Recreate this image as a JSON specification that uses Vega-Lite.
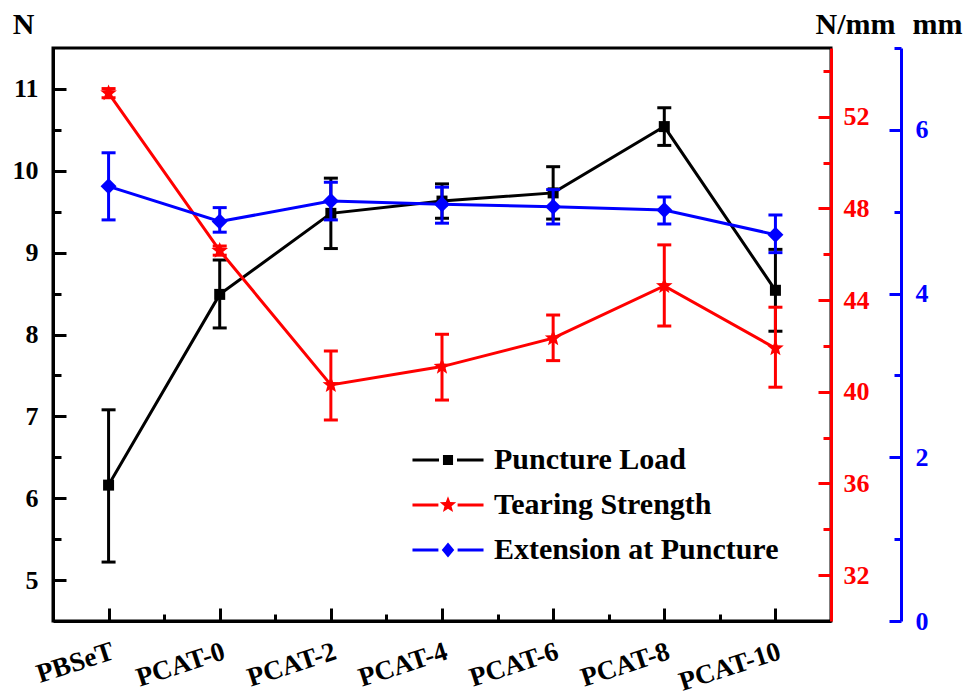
{
  "$schema": "https://vega.github.io/schema/vega-lite/v6.json",
  "width": 778,
  "height": 573,
  "autosize": {"type": "none"},
  "padding": {"left": 53, "top": 48, "right": 148, "bottom": 76},
  "background": "white",
  "config": {
    "view": {"stroke": "black", "strokeWidth": 3},
    "font": "Liberation Serif"
  },
  "data": {
    "values": [
      {"i": 0, "sample": "PBSeT", "series": "Puncture Load", "v": 6.16, "lo": 5.22, "hi": 7.08},
      {"i": 1, "sample": "PCAT-0", "series": "Puncture Load", "v": 8.49, "lo": 8.08, "hi": 8.91},
      {"i": 2, "sample": "PCAT-2", "series": "Puncture Load", "v": 9.48, "lo": 9.05, "hi": 9.91},
      {"i": 3, "sample": "PCAT-4", "series": "Puncture Load", "v": 9.63, "lo": 9.42, "hi": 9.84},
      {"i": 4, "sample": "PCAT-6", "series": "Puncture Load", "v": 9.73, "lo": 9.41, "hi": 10.05},
      {"i": 5, "sample": "PCAT-8", "series": "Puncture Load", "v": 10.54, "lo": 10.31, "hi": 10.77},
      {"i": 6, "sample": "PCAT-10", "series": "Puncture Load", "v": 8.54, "lo": 8.04, "hi": 9.04},
      {"i": 0, "sample": "PBSeT", "series": "Tearing Strength", "v": 53.03, "lo": 52.83, "hi": 53.23},
      {"i": 1, "sample": "PCAT-0", "series": "Tearing Strength", "v": 46.16, "lo": 45.96, "hi": 46.36},
      {"i": 2, "sample": "PCAT-2", "series": "Tearing Strength", "v": 40.3, "lo": 38.77, "hi": 41.78},
      {"i": 3, "sample": "PCAT-4", "series": "Tearing Strength", "v": 41.1, "lo": 39.64, "hi": 42.51},
      {"i": 4, "sample": "PCAT-6", "series": "Tearing Strength", "v": 42.34, "lo": 41.36, "hi": 43.35},
      {"i": 5, "sample": "PCAT-8", "series": "Tearing Strength", "v": 44.62, "lo": 42.87, "hi": 46.41},
      {"i": 6, "sample": "PCAT-10", "series": "Tearing Strength", "v": 41.9, "lo": 40.2, "hi": 43.69},
      {"i": 0, "sample": "PBSeT", "series": "Extension at Puncture", "v": 5.31, "lo": 4.9, "hi": 5.72},
      {"i": 1, "sample": "PCAT-0", "series": "Extension at Puncture", "v": 4.88, "lo": 4.75, "hi": 5.05},
      {"i": 2, "sample": "PCAT-2", "series": "Extension at Puncture", "v": 5.13, "lo": 4.9, "hi": 5.36},
      {"i": 3, "sample": "PCAT-4", "series": "Extension at Puncture", "v": 5.09, "lo": 4.86, "hi": 5.3},
      {"i": 4, "sample": "PCAT-6", "series": "Extension at Puncture", "v": 5.06, "lo": 4.85, "hi": 5.27},
      {"i": 5, "sample": "PCAT-8", "series": "Extension at Puncture", "v": 5.02, "lo": 4.85, "hi": 5.18},
      {"i": 6, "sample": "PCAT-10", "series": "Extension at Puncture", "v": 4.72, "lo": 4.5, "hi": 4.96}
    ]
  },
  "resolve": {"scale": {"y": "independent"}},
  "layer": [
    {
      "transform": [{"filter": "datum.series === 'Puncture Load'"}],
      "layer": [
        {
          "mark": {"type": "rule", "color": "black", "strokeWidth": 3, "opacity": 1},
          "encoding": {
            "x": {
              "field": "i", "type": "quantitative",
              "scale": {"domain": [-0.5, 6.5], "nice": false, "zero": false},
              "axis": {
                "orient": "top", "offset": -573,
                "values": [0.5, 1.5, 2.5, 3.5, 4.5, 5.5],
                "labels": false, "domain": false, "grid": false, "title": null,
                "ticks": true, "tickSize": 7, "tickWidth": 3, "tickColor": "black"
              }
            },
            "y": {
              "field": "lo", "type": "quantitative",
              "scale": {"domain": [4.5, 11.5], "nice": false, "zero": false},
              "axis": {
                "orient": "right", "offset": -778,
                "values": [5.5, 6.5, 7.5, 8.5, 9.5, 10.5],
                "labels": false, "domain": false, "grid": false, "title": null,
                "ticks": true, "tickSize": 8, "tickWidth": 3, "tickColor": "black"
              }
            },
            "y2": {"field": "hi"}
          }
        },
        {
          "mark": {"type": "tick", "orient": "horizontal", "color": "black", "size": 14, "thickness": 3, "opacity": 1},
          "encoding": {
            "x": {"field": "i", "type": "quantitative", "scale": {"domain": [-0.5, 6.5], "nice": false, "zero": false}, "axis": null},
            "y": {"field": "lo", "type": "quantitative", "scale": {"domain": [4.5, 11.5], "nice": false, "zero": false}, "axis": null}
          }
        },
        {
          "mark": {"type": "tick", "orient": "horizontal", "color": "black", "size": 14, "thickness": 3, "opacity": 1},
          "encoding": {
            "x": {"field": "i", "type": "quantitative", "scale": {"domain": [-0.5, 6.5], "nice": false, "zero": false}, "axis": null},
            "y": {"field": "hi", "type": "quantitative", "scale": {"domain": [4.5, 11.5], "nice": false, "zero": false}, "axis": null}
          }
        },
        {
          "mark": {"type": "line", "color": "black", "strokeWidth": 3},
          "encoding": {
            "x": {
              "field": "i", "type": "quantitative",
              "scale": {"domain": [-0.5, 6.5], "nice": false, "zero": false},
              "axis": {
                "orient": "bottom",
                "values": [0, 1, 2, 3, 4, 5, 6],
                "labelExpr": "['PBSeT','PCAT-0','PCAT-2','PCAT-4','PCAT-6','PCAT-8','PCAT-10'][datum.value]",
                "ticks": false,
                "domainColor": "black", "domainWidth": 3,
                "labelAngle": -18, "labelAlign": "right", "labelBaseline": "top",
                "labelFont": "Liberation Serif", "labelFontWeight": "bold", "labelFontSize": 27, "labelColor": "black",
                "labelPadding": 17, "labelFlush": false, "labelOverlap": false, "labelBound": false,
                "grid": false, "title": null
              }
            },
            "y": {
              "field": "v", "type": "quantitative",
              "scale": {"domain": [4.5, 11.5], "nice": false, "zero": false},
              "axis": {
                "orient": "left",
                "values": [5, 6, 7, 8, 9, 10, 11],
                "labelExpr": "'' + datum.value",
                "ticks": false,
                "domainColor": "black", "domainWidth": 3,
                "labelFont": "Liberation Serif", "labelFontWeight": "bold", "labelFontSize": 26, "labelColor": "black",
                "labelPadding": 15, "labelFlush": false, "labelOverlap": false,
                "grid": false,
                "title": "N", "titleAngle": 0, "titleAlign": "center", "titleBaseline": "alphabetic",
                "titleX": -30, "titleY": -15,
                "titleFont": "Liberation Serif", "titleFontWeight": "bold", "titleFontSize": 30, "titleColor": "black"
              }
            }
          }
        },
        {
          "mark": {"type": "point", "shape": "square", "filled": true, "size": 121, "opacity": 1, "strokeWidth": 0},
          "encoding": {
            "x": {
              "field": "i", "type": "quantitative",
              "scale": {"domain": [-0.5, 6.5], "nice": false, "zero": false},
              "axis": {
                "orient": "top", "offset": -573,
                "values": [0, 1, 2, 3, 4, 5, 6],
                "labels": false, "domain": false, "grid": false, "title": null,
                "ticks": true, "tickSize": 13, "tickWidth": 3, "tickColor": "black"
              }
            },
            "y": {
              "field": "v", "type": "quantitative",
              "scale": {"domain": [4.5, 11.5], "nice": false, "zero": false},
              "axis": {
                "orient": "right", "offset": -778,
                "values": [5, 6, 7, 8, 9, 10, 11],
                "labels": false, "domain": false, "grid": false, "title": null,
                "ticks": true, "tickSize": 13, "tickWidth": 3, "tickColor": "black"
              }
            },
            "color": {
              "field": "series", "type": "nominal",
              "scale": {"domain": ["Puncture Load", "Tearing Strength", "Extension at Puncture"], "range": ["black", "red", "blue"]},
              "legend": {
                "orient": "none", "legendX": 380, "legendY": 397,
                "title": null, "padding": 0,
                "labelFont": "Liberation Serif", "labelFontWeight": "bold", "labelFontSize": 30, "labelColor": "black",
                "labelOffset": 31, "labelLimit": 500, "rowPadding": 15,
                "symbolSize": 576, "symbolStrokeWidth": 0, "symbolOpacity": 1,
                "encode": {
                  "symbols": {
                    "update": {
                      "shape": {"signal": "datum.value === 'Puncture Load' ? 'M-2.96,-0.12H-0.75V0.12H-2.96Z M0.75,-0.12H2.96V0.12H0.75Z M-0.42,-0.42H0.42V0.42H-0.42Z' : datum.value === 'Tearing Strength' ? 'M-2.96,-0.12H-0.8V0.12H-2.96Z M0.8,-0.12H2.96V0.12H0.8Z M0,-0.72L0.181,-0.25L0.685,-0.222L0.293,0.095L0.423,0.582L0,0.309L-0.423,0.582L-0.293,0.095L-0.685,-0.222L-0.181,-0.25Z' : 'M-2.96,-0.12H-0.8V0.12H-2.96Z M0.8,-0.12H2.96V0.12H0.8Z M0,-0.62L0.52,0L0,0.62L-0.52,0Z'"},
                      "fill": {"signal": "datum.value === 'Puncture Load' ? 'black' : datum.value === 'Tearing Strength' ? 'red' : 'blue'"},
                      "strokeWidth": {"value": 0},
                      "opacity": {"value": 1}
                    }
                  }
                }
              }
            }
          }
        }
      ]
    },
    {
      "transform": [{"filter": "datum.series === 'Tearing Strength'"}],
      "layer": [
        {
          "mark": {"type": "rule", "color": "red", "strokeWidth": 3, "opacity": 1},
          "encoding": {
            "x": {"field": "i", "type": "quantitative", "scale": {"domain": [-0.5, 6.5], "nice": false, "zero": false}, "axis": null},
            "y": {
              "field": "lo", "type": "quantitative",
              "scale": {"domain": [30, 55], "nice": false, "zero": false},
              "axis": {
                "orient": "left", "offset": -778,
                "values": [34, 38, 42, 46, 50, 54],
                "labels": false, "domain": false, "grid": false, "title": null,
                "ticks": true, "tickSize": 8, "tickWidth": 3, "tickColor": "red"
              }
            },
            "y2": {"field": "hi"}
          }
        },
        {
          "mark": {"type": "tick", "orient": "horizontal", "color": "red", "size": 14, "thickness": 3, "opacity": 1},
          "encoding": {
            "x": {"field": "i", "type": "quantitative", "scale": {"domain": [-0.5, 6.5], "nice": false, "zero": false}, "axis": null},
            "y": {"field": "lo", "type": "quantitative", "scale": {"domain": [30, 55], "nice": false, "zero": false}, "axis": null}
          }
        },
        {
          "mark": {"type": "tick", "orient": "horizontal", "color": "red", "size": 14, "thickness": 3, "opacity": 1},
          "encoding": {
            "x": {"field": "i", "type": "quantitative", "scale": {"domain": [-0.5, 6.5], "nice": false, "zero": false}, "axis": null},
            "y": {"field": "hi", "type": "quantitative", "scale": {"domain": [30, 55], "nice": false, "zero": false}, "axis": null}
          }
        },
        {
          "mark": {"type": "line", "color": "red", "strokeWidth": 3},
          "encoding": {
            "x": {"field": "i", "type": "quantitative", "scale": {"domain": [-0.5, 6.5], "nice": false, "zero": false}, "axis": null},
            "y": {
              "field": "v", "type": "quantitative",
              "scale": {"domain": [30, 55], "nice": false, "zero": false},
              "axis": {
                "orient": "right",
                "values": [32, 36, 40, 44, 48, 52],
                "labelExpr": "'' + datum.value",
                "ticks": false,
                "domainColor": "red", "domainWidth": 3,
                "labelFont": "Liberation Serif", "labelFontWeight": "bold", "labelFontSize": 26, "labelColor": "red",
                "labelPadding": 12, "labelFlush": false, "labelOverlap": false,
                "grid": false,
                "title": "N/mm", "titleAngle": 0, "titleAlign": "center", "titleBaseline": "alphabetic",
                "titleX": 24, "titleY": -15,
                "titleFont": "Liberation Serif", "titleFontWeight": "bold", "titleFontSize": 30, "titleColor": "black"
              }
            }
          }
        },
        {
          "mark": {"type": "point", "shape": "M0,-0.66L0.166,-0.229L0.628,-0.204L0.269,0.087L0.388,0.534L0,0.283L-0.388,0.534L-0.269,0.087L-0.628,-0.204L-0.166,-0.229Z", "filled": true, "size": 700, "opacity": 1, "strokeWidth": 0},
          "encoding": {
            "x": {"field": "i", "type": "quantitative", "scale": {"domain": [-0.5, 6.5], "nice": false, "zero": false}, "axis": null},
            "y": {
              "field": "v", "type": "quantitative",
              "scale": {"domain": [30, 55], "nice": false, "zero": false},
              "axis": {
                "orient": "left", "offset": -778,
                "values": [32, 36, 40, 44, 48, 52],
                "labels": false, "domain": false, "grid": false, "title": null,
                "ticks": true, "tickSize": 13, "tickWidth": 3, "tickColor": "red"
              }
            },
            "color": {
              "field": "series", "type": "nominal",
              "scale": {"domain": ["Puncture Load", "Tearing Strength", "Extension at Puncture"], "range": ["black", "red", "blue"]},
              "legend": null
            }
          }
        }
      ]
    },
    {
      "transform": [{"filter": "datum.series === 'Extension at Puncture'"}],
      "layer": [
        {
          "mark": {"type": "rule", "color": "blue", "strokeWidth": 3, "opacity": 1},
          "encoding": {
            "x": {"field": "i", "type": "quantitative", "scale": {"domain": [-0.5, 6.5], "nice": false, "zero": false}, "axis": null},
            "y": {
              "field": "lo", "type": "quantitative",
              "scale": {"domain": [0, 7], "nice": false, "zero": false},
              "axis": {
                "orient": "left", "offset": -848,
                "values": [1, 3, 5, 7],
                "labels": false, "domain": false, "grid": false, "title": null,
                "ticks": true, "tickSize": 7, "tickWidth": 3, "tickColor": "blue"
              }
            },
            "y2": {"field": "hi"}
          }
        },
        {
          "mark": {"type": "tick", "orient": "horizontal", "color": "blue", "size": 14, "thickness": 3, "opacity": 1},
          "encoding": {
            "x": {"field": "i", "type": "quantitative", "scale": {"domain": [-0.5, 6.5], "nice": false, "zero": false}, "axis": null},
            "y": {"field": "lo", "type": "quantitative", "scale": {"domain": [0, 7], "nice": false, "zero": false}, "axis": null}
          }
        },
        {
          "mark": {"type": "tick", "orient": "horizontal", "color": "blue", "size": 14, "thickness": 3, "opacity": 1},
          "encoding": {
            "x": {"field": "i", "type": "quantitative", "scale": {"domain": [-0.5, 6.5], "nice": false, "zero": false}, "axis": null},
            "y": {"field": "hi", "type": "quantitative", "scale": {"domain": [0, 7], "nice": false, "zero": false}, "axis": null}
          }
        },
        {
          "mark": {"type": "line", "color": "blue", "strokeWidth": 3},
          "encoding": {
            "x": {"field": "i", "type": "quantitative", "scale": {"domain": [-0.5, 6.5], "nice": false, "zero": false}, "axis": null},
            "y": {
              "field": "v", "type": "quantitative",
              "scale": {"domain": [0, 7], "nice": false, "zero": false},
              "axis": {
                "orient": "right", "offset": 70,
                "values": [0, 2, 4, 6],
                "labelExpr": "'' + datum.value",
                "ticks": false,
                "domainColor": "blue", "domainWidth": 3,
                "labelFont": "Liberation Serif", "labelFontWeight": "bold", "labelFontSize": 26, "labelColor": "blue",
                "labelPadding": 14, "labelFlush": false, "labelOverlap": false,
                "grid": false,
                "title": "mm", "titleAngle": 0, "titleAlign": "center", "titleBaseline": "alphabetic",
                "titleX": 36, "titleY": -15,
                "titleFont": "Liberation Serif", "titleFontWeight": "bold", "titleFontSize": 30, "titleColor": "black"
              }
            }
          }
        },
        {
          "mark": {"type": "point", "shape": "diamond", "filled": true, "size": 256, "opacity": 1, "strokeWidth": 0},
          "encoding": {
            "x": {"field": "i", "type": "quantitative", "scale": {"domain": [-0.5, 6.5], "nice": false, "zero": false}, "axis": null},
            "y": {
              "field": "v", "type": "quantitative",
              "scale": {"domain": [0, 7], "nice": false, "zero": false},
              "axis": {
                "orient": "left", "offset": -848,
                "values": [0, 2, 4, 6],
                "labels": false, "domain": false, "grid": false, "title": null,
                "ticks": true, "tickSize": 12, "tickWidth": 3, "tickColor": "blue"
              }
            },
            "color": {
              "field": "series", "type": "nominal",
              "scale": {"domain": ["Puncture Load", "Tearing Strength", "Extension at Puncture"], "range": ["black", "red", "blue"]},
              "legend": null
            }
          }
        }
      ]
    }
  ]
}
